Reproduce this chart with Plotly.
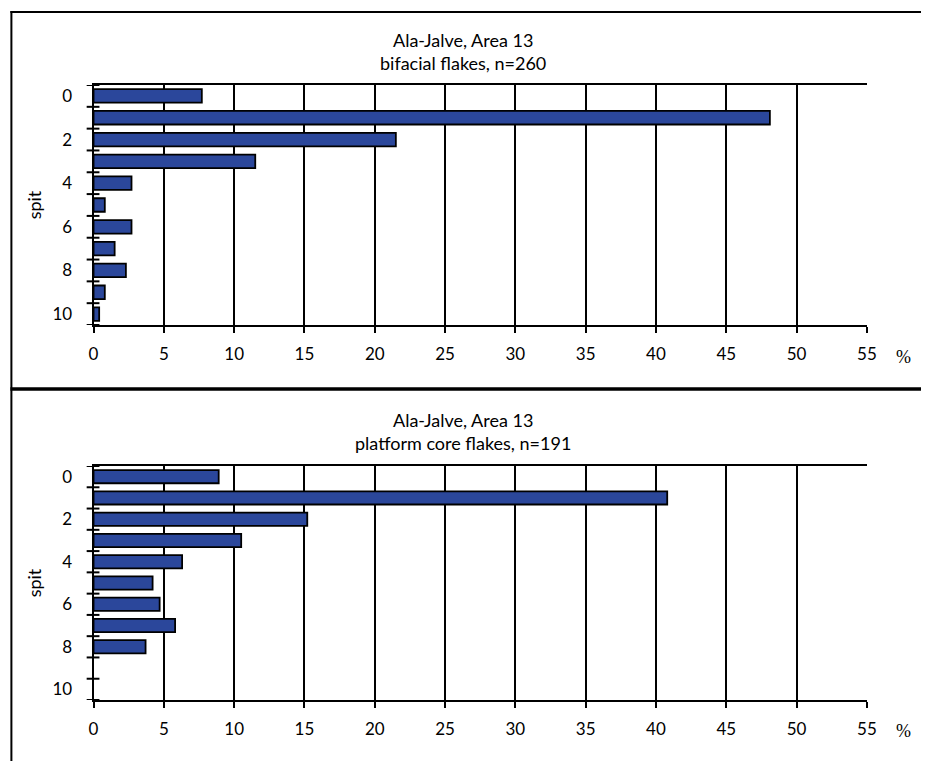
import plotly.graph_objects as go
from plotly.subplots import make_subplots

# Spit numbers (excavation levels) and the share of flakes per spit, in %
spits = list(range(11))
bifacial_pct = [7.7, 48.1, 21.5, 11.5, 2.7, 0.8, 2.7, 1.5, 2.3, 0.8, 0.4]
platform_pct = [8.9, 40.8, 15.2, 10.5, 6.3, 4.2, 4.7, 5.8, 3.7, None, None]

site = "Ala-Jalve, Area 13"
panel_titles = ["bifacial flakes, n=260", "platform core flakes, n=191"]
spit_labels = [0, 2, 4, 6, 8, 10]
pct_ticks = list(range(0, 60, 5))

W, H = 931, 761
FONT = "Lato"
BAR_FILL = "#2b479b"

fig = make_subplots(rows=2, cols=1)

for row, values in ((1, bifacial_pct), (2, platform_pct)):
    fig.add_trace(
        go.Bar(
            x=values, y=spits, orientation="h",
            marker=dict(color=BAR_FILL, line=dict(color="black", width=1.8)),
            width=0.62, showlegend=False, hoverinfo="x+y",
        ),
        row=row, col=1,
    )

# plot areas in pixels: left, right, top, bottom
panels = [(90, 876, 85, 325), (90, 876, 466, 700)]

def px_x(p):
    return p / W

def px_y(p):
    return 1 - p / H

for i, (l, r, t, b) in enumerate(panels, start=1):
    xa = "xaxis" if i == 1 else f"xaxis{i}"
    ya = "yaxis" if i == 1 else f"yaxis{i}"
    fig.layout[xa].update(
        domain=[px_x(l), px_x(r)], range=[0, 55],
        tickvals=pct_ticks, ticks="outside", ticklen=6, tickwidth=2, tickcolor="black",
        showgrid=True, gridcolor="black", gridwidth=2,
        showline=True, linecolor="black", linewidth=2, mirror=True,
        zeroline=False, ticklabelstandoff=7,
        tickfont=dict(family=FONT, size=17, color="black"),
    )
    fig.layout[ya].update(
        domain=[px_y(b), px_y(t)], range=[10.5, -0.5],
        tickvals=spit_labels, ticks="", showgrid=False,
        showline=True, linecolor="black", linewidth=2,
        zeroline=False, ticklabelstandoff=16,
        tickfont=dict(family=FONT, size=17, color="black"),
        title=dict(text="spit", font=dict(family=FONT, size=18, color="black"), standoff=6),
    )

shapes = []
# short ticks crossing the spit axis at each spit boundary
for i in (1, 2):
    l, r, t, b = panels[i - 1]
    span = r - l
    xref = "x domain" if i == 1 else f"x{i} domain"
    yref = "y" if i == 1 else f"y{i}"
    for k in range(len(spits) + 1):
        yb = k - 0.5
        shapes.append(dict(type="line", xref=xref, yref=yref,
                           x0=-7 / span, x1=6 / span, y0=yb, y1=yb,
                           line=dict(color="black", width=2)))

# outer frame: left and top edges, thick divider between the panels
shapes += [
    dict(type="line", xref="paper", yref="paper", x0=px_x(6.5), x1=px_x(6.5),
         y0=px_y(11), y1=0, line=dict(color="black", width=2)),
    dict(type="line", xref="paper", yref="paper", x0=px_x(5.5), x1=1,
         y0=px_y(12), y1=px_y(12), line=dict(color="black", width=2)),
    dict(type="line", xref="paper", yref="paper", x0=px_x(5.5), x1=1,
         y0=px_y(389), y1=px_y(389), line=dict(color="black", width=3.5)),
]

annotations = []
title_rows = [(40, 63), (420, 443)]
for (y1, y2), sub in zip(title_rows, panel_titles):
    for yy, txt in ((y1, site), (y2, sub)):
        annotations.append(dict(text=txt, xref="paper", yref="paper",
                                x=px_x(466), y=px_y(yy), showarrow=False,
                                xanchor="center", yanchor="middle",
                                font=dict(family=FONT, size=18, color="black")))
for yy in (357, 731):
    annotations.append(dict(text="%", xref="paper", yref="paper",
                            x=px_x(913), y=px_y(yy), showarrow=False,
                            xanchor="center", yanchor="middle",
                            font=dict(family="Liberation Serif", size=18, color="black")))

fig.update_layout(
    width=W, height=H, margin=dict(l=0, r=0, t=0, b=0),
    paper_bgcolor="white", plot_bgcolor="white",
    shapes=shapes, annotations=annotations, bargap=0.38,
)

fig.write_html("out.html")
